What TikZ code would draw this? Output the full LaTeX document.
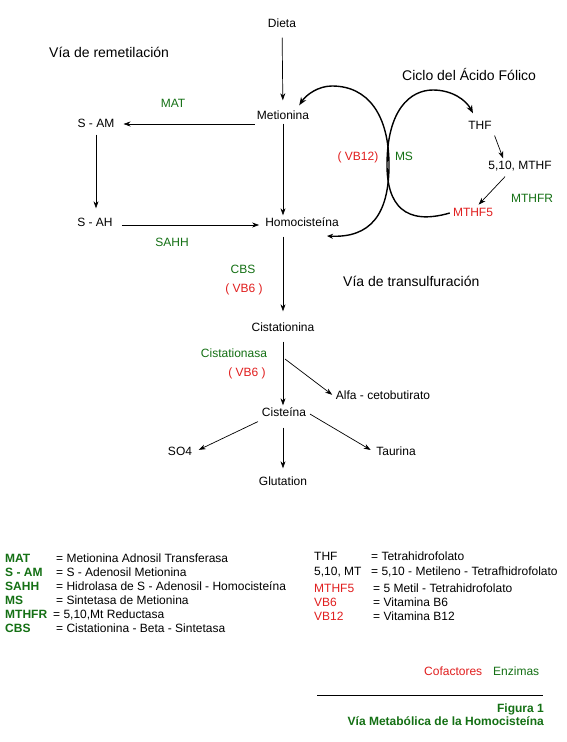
\documentclass[tikz,border=0pt]{standalone}
\usepackage{fontspec}
\setmainfont{Liberation Sans}
\usetikzlibrary{arrows.meta}
\definecolor{enzgreen}{RGB}{20,112,20}
\definecolor{cofred}{RGB}{225,30,30}
\tikzset{
  lbl/.style={font=\fontsize{12}{14}\selectfont, inner sep=2pt, text height=8.5pt, text depth=2.5pt},
  head/.style={lbl, font=\fontsize{14}{16}\selectfont},
  enz/.style={lbl, text=enzgreen},
  cof/.style={lbl, text=cofred},
  bold/.style={lbl, font=\fontsize{12}{14}\selectfont\bfseries, text=enzgreen},
  flow/.style={-{Stealth[length=7pt,width=5pt]}, line width=0.7pt},
  cycle/.style={line width=1.4pt},
}
\begin{document}
\begin{tikzpicture}[x=1pt,y=-1pt]
  \useasboundingbox[fill=white] (0,0) rectangle (567,742);
  % --- headings ---
  \node[head,anchor=west] (hremet) at (47,54) {Vía de remetilación};
  \node[head,anchor=west] (hfolic) at (400,77) {Ciclo del Ácido Fólico};
  \node[head,anchor=west] (htrans) at (341,283) {Vía de transulfuración};
  % --- metabolites ---
  \node[lbl] (dieta) at (282,24)  {Dieta};
  \node[lbl] (meti)  at (283,116) {Metionina};
  \node[lbl] (sam)   at (96,124)  {S - AM};
  \node[lbl] (sah)   at (95,223)  {S - AH};
  \node[lbl] (hcy)   at (302,223) {Homocisteína};
  \node[lbl] (cist)  at (283,328) {Cistationina};
  \node[lbl] (cys)   at (284,413) {Cisteína};
  \node[lbl] (alfa)  at (383,396) {Alfa - cetobutirato};
  \node[lbl] (so4)   at (180,452) {SO4};
  \node[lbl] (glut)  at (283,482) {Glutation};
  \node[lbl] (taur)  at (396,452) {Taurina};
  \node[lbl] (thf)   at (480,126) {THF};
  \node[lbl] (mthf)  at (520,166) {5,10, MTHF};
  \node[cof] (mthf5) at (473,213) {MTHF5};
  % --- enzymes and cofactors ---
  \node[enz] (mat)   at (173,104) {MAT};
  \node[enz] (sahh)  at (172,243) {SAHH};
  \node[cof] (vb12)  at (358,157) {( VB12)};
  \node[enz] (ms)    at (404,157) {MS};
  \node[enz] (mthfr) at (532,199) {MTHFR};
  \node[enz] (cbs)   at (243,270) {CBS};
  \node[cof] (vb6a)  at (244,289) {( VB6 )};
  \node[enz] (cstase) at (234,354) {Cistationasa};
  \node[cof] (vb6b)  at (247,373) {( VB6 )};
  % --- pathway arrows ---
  \draw[flow,shorten <=6pt,shorten >=8pt] (dieta) -- (meti);
  \draw[flow,shorten >=7pt] (meti.west |- sam) -- (sam);
  \draw[flow,shorten <=3pt,shorten >=7pt] (sam.south) -- (sam.south |- sah.north);
  \draw[flow,shorten <=7pt,shorten >=4pt] (sah.east |- 0,225) -- (hcy.west |- 0,225);
  \draw[flow] (meti.south) -- (meti.south |- hcy.north);
  \draw[flow,shorten <=6pt,shorten >=9pt] (meti |- hcy.south) -- (cist.north);
  \draw[flow,shorten <=6pt] (cist.south) -- (cist.south |- cys.north);
  \coordinate (branch) at (285,359);
  \draw[flow,shorten >=2pt] (branch) -- (alfa.west);
  \draw[flow,shorten <=2pt,shorten >=5pt] (cys.south west) -- (so4.east);
  \draw[flow,shorten <=7pt,shorten >=6pt] (cys.south -| glut) -- (glut.north);
  \draw[flow,shorten <=2pt,shorten >=4pt] (cys.east) -- (taur.west);
  \draw[flow,shorten <=2pt] (thf.south east) -- ([xshift=17pt]mthf.north west);
  \draw[flow,shorten >=1pt] ([xshift=-15pt,yshift=-3pt]mthf.south) -- ([xshift=5pt]mthf5.north);
  % --- the two cycles ---
  \coordinate (hcyend)  at ([shift={(25pt,-13pt)}]hcy.center);
  \coordinate (metiend) at ([shift={(-12pt,3pt)}]meti.north east);
  \draw[cycle,{Stealth[length=6pt,width=5pt]}-{Stealth[length=8pt,width=6pt]}] (hcyend)
    .. controls (370,238) and (389,215) .. (389,165)
    .. controls (389,115) and (368,86) .. (332,86)
    .. controls (318,86) and (306,95) .. (metiend);
  \coordinate (mthf5end) at ([xshift=-1pt]mthf5.west);
  \coordinate (thfend)   at ([shift={(-7pt,5pt)}]thf.north);
  \draw[cycle,-{Stealth[length=8pt,width=6pt]}] (mthf5end)
    .. controls (405,226) and (387,205) .. (387,165)
    .. controls (387,110) and (410,90) .. (433,90)
    .. controls (452,90) and (466,100) .. (thfend);
  % --- legend ---
  \foreach \ab/\ex/\desc/\y [count=\k] in {
      MAT/54/{= Metionina Adnosil Transferasa}/559,
      S - AM/54/{= S - Adenosil Metionina}/573,
      SAHH/54/{= Hidrolasa de S - Adenosil - Homocisteína}/587,
      MS/54/{= Sintetasa de Metionina}/601,
      MTHFR/51/{= 5,10,Mt Reductasa}/615,
      CBS/54/{= Cistationina - Beta - Sintetasa}/629}{
    \node[bold,anchor=west] (lab\k) at (3,\y) {\ab};
    \node[lbl,anchor=west] (desc\k) at (\ex,\y) {\desc};
  }
  \node[lbl,anchor=west] (rlab1) at (312,557) {THF};
  \node[lbl,anchor=west] (rdesc1) at (369,557) {= Tetrahidrofolato};
  \node[lbl,anchor=west] (rlab2) at (312,572) {5,10, MT};
  \node[lbl,anchor=west] (rdesc2) at (369,572) {= 5,10 - Metileno - Tetrafhidrofolato};
  \foreach \ab/\desc/\y [count=\k from 3] in {
      MTHF5/{= 5 Metil - Tetrahidrofolato}/589,
      VB6/{= Vitamina B6}/603,
      VB12/{= Vitamina B12}/617}{
    \node[cof,anchor=west] (rlab\k) at (312,\y) {\ab};
    \node[lbl,anchor=west] (rdesc\k) at (371,\y) {\desc};
  }
  \node[cof,anchor=west] (kcof) at (422,672) {Cofactores};
  \node[enz,anchor=west] (kenz) at (491,672) {Enzimas};
  % --- caption ---
  \draw[line width=0.8pt] (317,695) -- (543,695);
  \node[bold,anchor=east] (fig) at (546,709) {Figura 1};
  \node[bold,anchor=east] (figtitle) at (546,722) {Vía Metabólica de la Homocisteína};
\end{tikzpicture}
\end{document}
